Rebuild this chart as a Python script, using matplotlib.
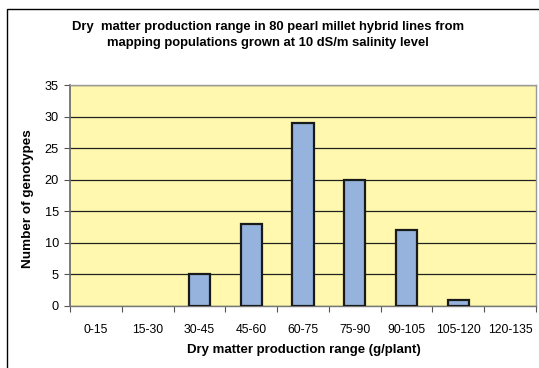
import matplotlib
matplotlib.use("Agg")
import matplotlib.pyplot as plt
from matplotlib.patches import Rectangle
import numpy as np

categories = ["0-15", "15-30", "30-45", "45-60", "60-75", "75-90", "90-105", "105-120", "120-135"]
genotypes = [0, 0, 5, 13, 29, 20, 12, 1, 0]
y_ticks = [0, 5, 10, 15, 20, 25, 30, 35]

title = ("Dry  matter production range in 80 pearl millet hybrid lines from\n"
         "mapping populations grown at 10 dS/m salinity level")
x_label = "Dry matter production range (g/plant)"
y_label = "Number of genotypes"

plt.rcParams["font.family"] = ["Liberation Sans", "DejaVu Sans"]

W, H = 539, 368
fig = plt.figure(figsize=(W / 100, H / 100), dpi=100)
fig.patch.set_facecolor("white")

# outer chart-area border (left and top edges visible)
fig.patches.append(Rectangle((7 / W, -0.1), 1.2, 1 - 9 / H + 0.1, transform=fig.transFigure,
                             fill=False, edgecolor="black", linewidth=1.0))

left, right, top, bottom = 70, 536, 85, 306
ax = fig.add_axes([left / W, 1 - bottom / H, (right - left) / W, (bottom - top) / H])
ax.set_facecolor("#FFF8AE")

x = np.arange(len(categories))
edge_colors = ["#1a1a1a" if v > 0 else "none" for v in genotypes]
ax.bar(x, genotypes, width=0.41, color="#95B3DD", edgecolor=edge_colors, linewidth=1.6, zorder=3)

ax.set_xlim(-0.5, len(categories) - 0.5)
ax.set_ylim(0, 35)
ax.set_yticks(y_ticks)
ax.set_yticklabels([str(v) for v in y_ticks], fontsize=9.2)
ax.yaxis.grid(True, color="#222222", linewidth=0.9, zorder=1)
ax.set_axisbelow(True)

# category labels centred, ticks on category boundaries
ax.set_xticks(x)
ax.set_xticklabels(categories, fontsize=8.8)
ax.tick_params(axis="x", which="major", length=0, pad=13)
ax.set_xticks(np.arange(len(categories) + 1) - 0.5, minor=True)
ax.tick_params(axis="x", which="minor", length=4, width=0.8, color="#555555", direction="out")
ax.tick_params(axis="y", length=4, width=0.8, color="#555555", pad=4)

for side in ["top", "right"]:
    ax.spines[side].set_color("#9a9a9a")
    ax.spines[side].set_linewidth(1.0)
ax.spines["left"].set_color("#666666")
ax.spines["left"].set_linewidth(1.2)
ax.spines["bottom"].set_color("#777777")
ax.spines["bottom"].set_linewidth(1.0)

ax.set_xlabel(x_label, fontsize=9.5, fontweight="bold", labelpad=6)
ax.set_ylabel(y_label, fontsize=9.7, fontweight="bold")
ax.xaxis.set_label_coords((304 - left) / (right - left), -(350 - bottom) / (bottom - top))
ax.yaxis.set_label_coords(-(left - 28) / (right - left), (bottom - 199) / (bottom - top))
ax.xaxis.label.set_va("center")
ax.yaxis.label.set_va("center")

fig.text(268 / W, 1 - 35 / H, title, ha="center", va="center", fontsize=9.4,
         fontweight="bold", linespacing=1.4)

fig.savefig("out.png", dpi=100)
